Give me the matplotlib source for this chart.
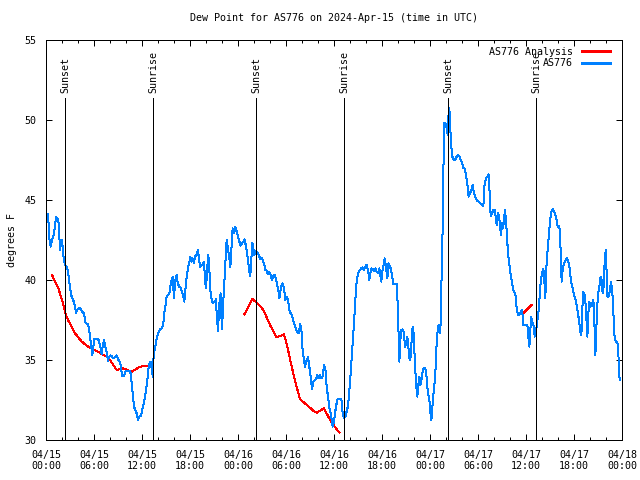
import numpy as np
import matplotlib
matplotlib.use("Agg")
import matplotlib.pyplot as plt
from matplotlib.ticker import MultipleLocator

plt.rcParams['font.family'] = ['DejaVu Sans Mono']
FS = 7.2

# hours since 2024-04-15 00:00 UTC
blue_hours = [0.25, 0.42, 0.58, 0.71, 1.0, 1.25, 1.42, 1.54, 1.625, 1.75, 1.875, 2.0, 2.08, 2.25, 2.42, 2.67, 2.83, 3.0, 3.125, 3.33,
              3.54, 3.75, 3.92, 4.125, 4.33, 4.5, 4.75, 4.96, 5.21, 5.375, 5.5, 5.71, 5.79, 5.92, 6.04, 6.33, 6.54, 6.75, 6.96, 7.08,
              7.25, 7.46, 7.58, 7.75, 7.875, 8.08, 8.25, 8.42, 8.625, 8.83, 9.0, 9.17, 9.33, 9.5, 9.75, 9.92, 10.08, 10.42, 10.58, 10.75,
              10.875, 11.0, 11.17, 11.33, 11.5, 11.67, 11.875, 12.04, 12.21, 12.375, 12.5, 12.67, 12.79, 12.92, 13.08, 13.17, 13.29, 13.33, 13.42, 13.5,
              13.67, 13.83, 14.04, 14.25, 14.5, 14.67, 14.75, 14.92, 15.08, 15.25, 15.42, 15.5, 15.71, 15.83, 16.0, 16.125, 16.25, 16.33, 16.46, 16.67,
              16.83, 17.0, 17.17, 17.29, 17.42, 17.58, 17.75, 17.92, 18.04, 18.21, 18.33, 18.5, 18.625, 18.83, 19.0,
              19.25, 19.58, 19.75, 19.875, 20.0, 20.17, 20.29, 20.42, 20.54, 20.71, 20.83, 21.08, 21.25, 21.33, 21.5, 21.67, 21.83, 21.92, 22.0, 22.17,
              22.25, 22.375, 22.5, 22.58, 22.75, 22.92, 23.04, 23.125, 23.25, 23.33, 23.5, 23.67, 23.83, 24.0, 24.17, 24.33, 24.5, 24.67, 24.83, 25.0,
              25.17, 25.29, 25.42, 25.54, 25.67, 25.79, 25.92, 26.04, 26.17, 26.33, 26.5, 26.67, 26.83, 27.0, 27.17, 27.29, 27.42, 27.58, 27.71, 27.875,
              28.08, 28.25, 28.42, 28.58, 28.75, 28.875, 29.04, 29.17, 29.29, 29.42, 29.58, 29.75, 29.92, 30.08, 30.25, 30.42, 30.58, 30.75, 30.92, 31.08,
              31.25, 31.42, 31.58, 31.67, 31.75, 31.92, 32.04, 32.21, 32.375, 32.54, 32.75, 32.92, 33.08, 33.25, 33.42, 33.58, 33.75, 33.92, 34.08, 34.25,
              34.42, 34.58, 34.75, 34.92, 35.08, 35.25, 35.42, 35.58, 35.75, 35.83, 36.0, 36.125, 36.25, 36.42, 36.67, 36.92, 37.08, 37.25, 37.42, 37.58,
              37.75, 37.92, 38.08, 38.25, 38.42, 38.54, 38.67, 38.79, 38.92, 39.08, 39.25, 39.42, 39.58, 39.75, 39.92, 40.08, 40.25, 40.42, 40.5, 40.67,
              40.83, 41.0, 41.17, 41.33, 41.5, 41.67,
              41.75, 41.92, 42.0, 42.17, 42.33, 42.5, 42.67, 42.79, 42.92, 43.08, 43.25, 43.42, 43.58, 43.83, 43.96, 44.08, 44.17, 44.29, 44.42, 44.58,
              44.75, 44.875, 45.0, 45.17, 45.29, 45.46, 45.58, 45.71, 45.83, 45.96, 46.08, 46.25, 46.42, 46.54, 46.67, 46.79, 46.92, 47.04, 47.17, 47.33,
              47.5, 47.625, 47.75, 47.92, 48.04, 48.17, 48.29, 48.42, 48.58, 48.71, 48.83, 49.0, 49.17, 49.25, 49.33, 49.42, 49.54, 49.67, 49.75, 49.92,
              50.04, 50.125, 50.21, 50.29, 50.42, 50.54, 50.67, 50.79, 51.0, 51.17, 51.33, 51.5, 51.67, 51.83, 52.0, 52.17, 52.33, 52.46, 52.58, 52.71,
              52.83, 53.0, 53.17, 53.33, 53.46, 53.625, 53.83, 54.04, 54.25, 54.46, 54.67, 54.83, 55.0, 55.17, 55.33, 55.46, 55.58, 55.75, 55.92, 56.08,
              56.21, 56.33, 56.5, 56.625, 56.75, 56.875, 57.0, 57.125, 57.25, 57.375, 57.5, 57.625, 57.75, 57.875, 58.0, 58.17, 58.33, 58.46, 58.625, 58.75,
              58.83, 59.0, 59.17, 59.33, 59.46, 59.58, 59.67, 59.83, 60.0, 60.17, 60.29, 60.42, 60.5, 60.625, 60.75, 60.875, 61.0, 61.08, 61.21, 61.33,
              61.46, 61.625, 61.75, 61.875, 62.04, 62.17, 62.29, 62.42, 62.5, 62.67, 62.83, 63.0, 63.17, 63.33,
              63.625, 63.83, 63.96, 64.17, 64.29, 64.375, 64.46, 64.58, 64.71, 64.83, 64.96, 65.125, 65.29, 65.42, 65.54, 65.67, 65.83, 66.0, 66.17, 66.33,
              66.5, 66.67, 66.79, 66.92, 67.0, 67.125, 67.25, 67.375, 67.5, 67.67, 67.79, 67.92, 68.04, 68.17, 68.29, 68.42, 68.54, 68.67, 68.75, 68.875,
              69.0, 69.17, 69.33, 69.46, 69.58, 69.71, 69.83, 69.96, 70.04, 70.17, 70.33, 70.5, 70.625, 70.75, 70.875, 71.0, 71.125, 71.25, 71.42, 71.54,
              71.625, 71.71]
blue_vals = [44.13, 42.60, 42.08, 42.40, 42.92, 43.92, 43.85, 43.75, 43.23, 41.88, 42.29, 42.5, 42.08, 41.15, 40.94, 40.73, 40.21, 39.58, 39.06, 38.85,
             38.54, 37.96, 38.13, 38.23, 38.23, 38.02, 37.92, 37.29, 37.25, 36.98, 36.46, 35.63, 35.31, 35.83, 36.29, 36.29, 36.29, 35.94, 35.38, 35.83,
             36.25, 35.73, 35.52, 34.96, 35.21, 35.29, 35.21, 35.10, 35.17, 35.29, 35.04, 34.94, 34.69, 34.0, 34.0, 34.27, 34.33, 34.33, 34.17, 33.33,
             32.71, 32.08, 31.875, 31.67, 31.25, 31.46, 31.5, 31.875, 32.29, 32.71, 33.125, 33.75, 34.375, 34.79, 34.9, 34.58, 34.27, 33.96, 35.0, 35.42,
             35.83, 36.35, 36.67, 36.92, 36.98, 37.29, 37.81, 38.33, 38.96, 39.06, 39.17, 39.48, 40.0, 40.21, 38.85, 39.79, 40.21, 40.31, 39.79, 39.58,
             39.54, 39.27, 38.96, 38.65, 39.375, 40.21, 40.73, 41.15, 41.42, 41.15, 41.35, 41.08, 41.46, 41.56, 41.875,
             40.83, 40.94, 41.15, 40.0, 39.48, 40.83, 41.56, 40.625, 39.375, 38.75, 38.54, 38.65, 38.79, 37.92, 36.83, 38.54, 39.17, 37.81, 36.92, 38.75,
             39.58, 40.52, 41.875, 42.5, 41.98, 41.35, 40.83, 41.35, 42.71, 43.23, 42.92, 43.33, 43.02, 42.71, 42.40, 42.15, 42.29, 42.40, 42.54, 42.08,
             41.56, 41.04, 40.52, 40.25, 41.35, 42.33, 41.98, 41.56, 41.83, 41.77, 41.67, 41.46, 41.29, 41.35, 41.15, 40.94, 40.625, 40.58, 40.375, 40.52,
             40.31, 40.0, 40.25, 40.31, 40.04, 39.75, 39.375, 38.85, 39.27, 39.625, 39.79, 39.48, 38.75, 38.96, 38.75, 38.125, 37.92, 37.81, 37.46, 37.19,
             36.92, 36.77, 36.67, 36.875, 37.25, 36.98, 35.83, 35.10, 34.58, 34.90, 35.21, 34.58, 33.96, 33.17, 33.65, 33.75, 33.79, 34.06, 33.85, 34.06,
             33.85, 33.96, 34.69, 34.48, 33.33, 32.71, 31.98, 31.67, 31.15, 30.83, 31.15, 31.67, 32.08, 32.54, 32.54, 32.54, 31.67, 31.35, 31.46, 31.77,
             32.125, 33.125, 34.17, 35.42, 36.67, 37.71, 38.75, 39.69, 40.21, 40.52, 40.625, 40.73, 40.79, 40.625, 40.83, 40.94, 40.625, 40.0, 40.31, 40.73,
             40.67, 40.58, 40.73, 40.52, 40.42, 40.73,
             40.42, 39.9, 40.46, 40.83, 41.35, 40.83, 40.10, 41.04, 40.94, 40.73, 40.31, 39.75, 39.75, 39.75, 38.54, 36.46, 34.9, 36.25, 36.875, 36.92,
             36.67, 35.83, 36.04, 36.46, 35.83, 35.0, 35.21, 36.25, 37.08, 36.67, 35.21, 33.54, 32.71, 33.44, 33.96, 33.44, 33.75, 34.17, 34.48, 34.48,
             34.375, 33.54, 32.92, 32.5, 31.77, 31.25, 31.98, 32.81, 33.65, 34.58, 36.04, 37.08, 37.19, 36.67, 37.29, 39.58, 42.08, 46.46, 49.79, 49.83,
             49.58, 49.375, 49.06, 50.21, 50.73, 49.375, 48.33, 47.71, 47.5, 47.5, 47.71, 47.81, 47.75, 47.5, 47.33, 46.98, 46.98, 46.67, 46.25, 45.83,
             45.21, 45.42, 45.625, 45.94, 45.52, 45.21, 45.0, 44.9, 44.79, 44.69, 44.625, 46.04, 46.35, 46.46, 46.6, 45.42, 44.0, 44.17, 44.375, 44.375,
             43.96, 43.44, 44.17, 44.06, 43.33, 42.81, 43.54, 43.23, 43.75, 44.375, 43.75, 42.71, 41.67, 41.15, 40.625, 40.10, 39.58, 39.27, 39.17, 38.85,
             38.23, 37.81, 37.81, 37.96, 38.125, 37.81, 37.19, 37.19, 37.19, 37.19, 36.46, 35.83, 36.35, 37.67, 37.54, 37.19, 37.08, 36.46, 36.67, 37.08,
             37.6, 38.33, 39.375, 40.0, 40.52, 40.67, 40.0, 38.85, 40.42, 41.67, 42.6, 43.65, 44.27, 44.42,
             44.17, 43.75, 43.33, 43.375, 42.5, 40.83, 39.9, 40.625, 40.94, 41.15, 41.25, 41.35, 41.15, 40.83, 40.31, 39.79, 39.48, 39.06, 38.85, 38.44,
             37.92, 37.29, 36.77, 36.56, 37.5, 39.27, 39.17, 39.06, 38.02, 36.46, 37.92, 38.65, 38.33, 38.54, 38.375, 38.75, 37.5, 35.31, 36.25, 38.125,
             39.06, 39.58, 40.21, 40.0, 39.17, 39.58, 41.15, 41.875, 41.04, 38.96, 38.96, 39.375, 39.9, 39.375, 38.75, 36.77, 36.25, 36.15, 36.15, 35.52,
             34.27, 33.75]

nan = float('nan')
red_hours = [0.75, 1.54, 2.0, 2.5, 2.75, 3.625, 4.46, 5.29, 5.92, 7.58, 8.0, 8.42, 8.83, 9.67, 10.71, 11.75, 13.0, nan,
             24.79, 25.79, 26.54, 27.17, 28.0, 28.83, 29.75, 30.17, 30.71, 31.33, 31.75, 32.375, 33.42, 33.83, 34.75, 35.29, 35.71, 36.67, nan,
             59.58, 60.71]
red_vals = [40.31, 39.48, 38.75, 37.81, 37.5, 36.67, 36.15, 35.83, 35.67, 35.21, 35.0, 34.69, 34.375, 34.48, 34.27, 34.58, 34.67, nan,
            37.85, 38.81, 38.5, 38.125, 37.19, 36.42, 36.6, 35.83, 34.58, 33.33, 32.54, 32.29, 31.83, 31.71, 31.98, 31.46, 31.08, 30.46, nan,
            37.875, 38.44]

sun_hours = [2.41, 13.41, 26.29, 37.29, 50.29, 61.25]
sun_labels = ["Sunset", "Sunrise", "Sunset", "Sunrise", "Sunset", "Sunrise"]

xtick_hours = [0, 6, 12, 18, 24, 30, 36, 42, 48, 54, 60, 66, 72]
xtick_labels = ["04/15\n00:00", "04/15\n06:00", "04/15\n12:00", "04/15\n18:00",
                "04/16\n00:00", "04/16\n06:00", "04/16\n12:00", "04/16\n18:00",
                "04/17\n00:00", "04/17\n06:00", "04/17\n12:00", "04/17\n18:00",
                "04/18\n00:00"]
yticks = [30, 35, 40, 45, 50, 55]

fig = plt.figure(figsize=(6.4, 4.8), dpi=100)
ax = fig.add_axes([46/640, 40/480, 576/640, 400/480])

lw = 0.72
ax.plot(red_hours, red_vals, color='#ff0000', lw=lw, label='AS776 Analysis', antialiased=False)
ax.plot(blue_hours, blue_vals, color='#0080ff', lw=lw, label='AS776', antialiased=False)

for h, lab in zip(sun_hours, sun_labels):
    ax.vlines(h, 30, 51.35, color='black', lw=0.72, antialiased=False)
    ax.text(h, 51.7, lab, rotation=90, ha='center', va='bottom', fontsize=FS)

ax.set_xlim(0, 72)
ax.set_ylim(30, 55)
ax.set_xticks(xtick_hours)
ax.set_xticklabels(xtick_labels, fontsize=FS, linespacing=1.1)
ax.xaxis.set_minor_locator(MultipleLocator(2))
ax.set_yticks(yticks)
ax.set_yticklabels([str(v) for v in yticks], fontsize=FS)
ax.tick_params(which='both', direction='in', top=True, right=True, width=0.72, color='black')
ax.tick_params(axis='x', which='major', length=4, pad=7)
ax.tick_params(axis='x', which='minor', length=2)
ax.tick_params(axis='y', which='major', length=4, pad=7)
for s in ax.spines.values():
    s.set_linewidth(0.72)
    s.set_color('black')
    s.set_antialiased(False)

ax.set_title("Dew Point for AS776 on 2024-Apr-15 (time in UTC)", fontsize=FS, pad=14)
ax.set_ylabel("degrees F", fontsize=FS, labelpad=5.5)

leg = ax.legend(loc='upper right', bbox_to_anchor=(0.979, 0.9825), markerfirst=False, frameon=False,
                fontsize=FS, handlelength=2.8, handletextpad=0.9, labelspacing=0.15, borderpad=0,
                borderaxespad=0)
for ln in leg.get_lines():
    ln.set_antialiased(False)
    ln.set_linewidth(0.85)

fig.savefig("out.png", dpi=100)
